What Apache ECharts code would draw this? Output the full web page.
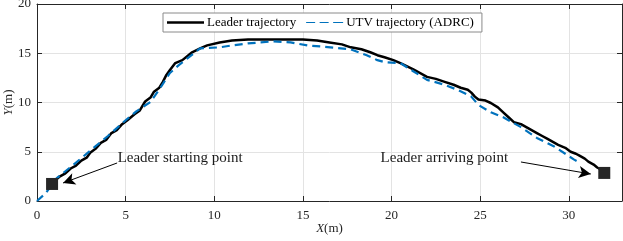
<!DOCTYPE html>
<html><head><meta charset="utf-8">
<script src="https://cdn.jsdelivr.net/npm/echarts@6/dist/echarts.min.js"></script>
<style>html,body{margin:0;padding:0;background:#fff}#c{width:623px;height:241px}</style>
</head><body><div id="c"></div>
<script>
const leaderX = [0.85,1.1,1.3,1.6,1.9,2.2,2.5,2.8,3.0,3.3,3.6,3.9,4.2,4.5,4.8,5.1,5.5,5.8,6.1,6.4,6.6,6.9,7.1,7.3,7.5,7.8,8.2,8.75,9.2,9.6,10.3,11.0,11.9,13.0,14.0,15.0,15.8,16.5,17.2,17.7,18.3,18.8,19.2,19.6,20.1,20.5,21.2,22.0,22.5,23.0,23.5,23.9,24.3,24.5,24.7,24.9,25.3,25.6,26.0,26.3,26.6,26.9,27.3,27.6,27.9,28.2,28.5,28.8,29.1,29.4,29.8,30.1,30.4,30.6,30.9,31.1,31.4,31.6,31.8,32.0];
const leaderY = [1.73,2.2,2.5,2.8,3.3,3.6,4.1,4.4,4.9,5.3,5.9,6.2,6.9,7.2,7.8,8.2,8.8,9.2,10.1,10.5,11.1,11.5,12.1,12.8,13.3,14.0,14.3,15.1,15.5,15.8,16.1,16.3,16.4,16.4,16.4,16.4,16.3,16.1,15.9,15.6,15.4,15.1,14.8,14.6,14.3,14.0,13.4,12.6,12.4,12.1,11.8,11.5,11.3,11.0,10.6,10.3,10.2,9.95,9.5,9.0,8.5,8.0,7.8,7.5,7.2,6.9,6.6,6.3,6.0,5.7,5.4,5.0,4.8,4.6,4.3,4.0,3.7,3.4,3.2,2.9];
const utvX = [0,0.5,1.1,2.0,3.0,4.0,5.0,5.6,6.4,7.0,7.5,8.0,8.5,9.2,10.3,11.0,11.9,13.3,14.3,15.25,16.55,17.7,18.6,19.2,19.6,20.5,21.2,22.0,23.0,23.7,24.5,24.9,25.6,26.3,27.3,28.2,29.2,30.3,30.5];
const utvY = [0,0.8,2.3,3.6,5.1,6.6,8.2,9.1,10.05,11.6,13.0,13.8,14.5,15.5,15.6,15.8,16.0,16.2,16.1,15.8,15.6,15.4,14.8,14.3,14.1,14.0,13.2,12.3,11.8,11.3,10.6,9.75,9.0,8.5,7.5,6.4,5.5,4.2,4.0];
const xTicks = [0,5,10,15,20,25,30];
const yTicks = [0,5,10,15,20];
const startPt = [0.85,1.73];
const endPt = [32.0,2.85];
const seriesNames = ['Leader trajectory','UTV trajectory (ADRC)'];
const startLabel = 'Leader starting point';
const endLabel = 'Leader arriving point';

const F = 'Liberation Serif';
const axisCol = '#262626';
const chart = echarts.init(document.getElementById('c'), null, {renderer:'canvas'});
const zip = (a,b)=>a.map((v,i)=>[v,b[i]]);
const baseX = {type:'value', min:0, max:33, interval:5, splitLine:{show:false}, axisLine:{show:true,onZero:false,lineStyle:{color:axisCol}}, axisTick:{inside:true,length:5,lineStyle:{color:axisCol}}};
const baseY = {type:'value', min:0, max:20, interval:5, splitLine:{show:false}, axisLine:{show:true,onZero:false,lineStyle:{color:axisCol}}, axisTick:{inside:true,length:5,lineStyle:{color:axisCol}}};
const nameRich = {rich:{i:{fontFamily:F,fontStyle:'italic',fontSize:13,color:axisCol},n:{fontFamily:F,fontSize:13,color:axisCol}}};
chart.setOption({
  animation:false,
  grid:{left:37,right:1,top:4,bottom:40,containLabel:false,outerBoundsMode:'none'},
  xAxis:[
    Object.assign({}, baseX, {position:'bottom', splitLine:{show:true,lineStyle:{color:'#e3e3e3',width:1}},
      axisLabel:{show:true,fontFamily:F,fontSize:13,color:axisCol,margin:8,
        formatter:v=>xTicks.includes(v)?String(v):''},
      name:'{i|X}{n|(m)}', nameLocation:'middle', nameGap:21, nameMoveOverlap:false,
      nameTextStyle:nameRich}),
    Object.assign({}, baseX, {position:'top', axisLabel:{show:false}})
  ],
  yAxis:[
    Object.assign({}, baseY, {position:'left', splitLine:{show:true,lineStyle:{color:'#e3e3e3',width:1}},
      axisLabel:{show:true,fontFamily:F,fontSize:13,color:axisCol,margin:6,
        formatter:v=>yTicks.includes(v)?String(v):''},
      name:'{i|Y}{n|(m)}', nameLocation:'middle', nameGap:22, nameRotate:90, nameMoveOverlap:false,
      nameTextStyle:nameRich}),
    Object.assign({}, baseY, {position:'right', axisLabel:{show:false}})
  ],
  legend:{
    left:163, top:13, orient:'horizontal', itemWidth:37, itemHeight:2.5, itemGap:10,
    padding:[3,8,3,4], borderColor:'#8a8a8a', borderWidth:1, backgroundColor:'#fff',
    textStyle:{fontFamily:F,fontSize:13,color:'#000',padding:[0,0,0,-2]},
    data:[{name:seriesNames[0],icon:'rect'},
          {name:seriesNames[1],icon:'path://M0,0h9v1h-9zM13.5,0h9v1h-9zM27,0h9v1h-9zM36,0h1v1h-1z'}]
  },
  series:[
    {name:seriesNames[0], type:'line', data:zip(leaderX,leaderY), showSymbol:false, symbol:'none',
      lineStyle:{color:'#000',width:2.5}, itemStyle:{color:'#000'}, z:3,
      markPoint:{symbol:'rect', symbolSize:12, itemStyle:{color:'#262626'}, label:{show:false},
        data:[{coord:startPt},{coord:endPt}]},
      markLine:{silent:true, symbol:['none','arrow'], symbolSize:[9,12], lineStyle:{color:'#000',width:1,type:'solid'}, label:{show:false},
        data:[[{coord:[4.52,3.86]},{coord:[1.47,1.83]}],[{coord:[27.3,3.96]},{coord:[31.24,2.74]}]]}
    },
    {name:seriesNames[1], type:'line', data:zip(utvX,utvY), showSymbol:false, symbol:'none',
      lineStyle:{color:'#0072BD',width:2.2,type:[8,5]}, itemStyle:{color:'#0072BD'}, z:4,
      markPoint:{symbol:'circle', symbolSize:1, itemStyle:{color:'rgba(0,0,0,0)'},
        label:{show:true,fontFamily:F,fontSize:15,color:'#1a1a1a',formatter:p=>p.name},
        data:[{name:startLabel,coord:[4.52,4.37],label:{position:'right',align:'left',distance:0}},
              {name:endLabel,coord:[26.6,4.37],label:{position:'left',align:'right',distance:0}}]}
    }
  ]
});
</script></body></html>
